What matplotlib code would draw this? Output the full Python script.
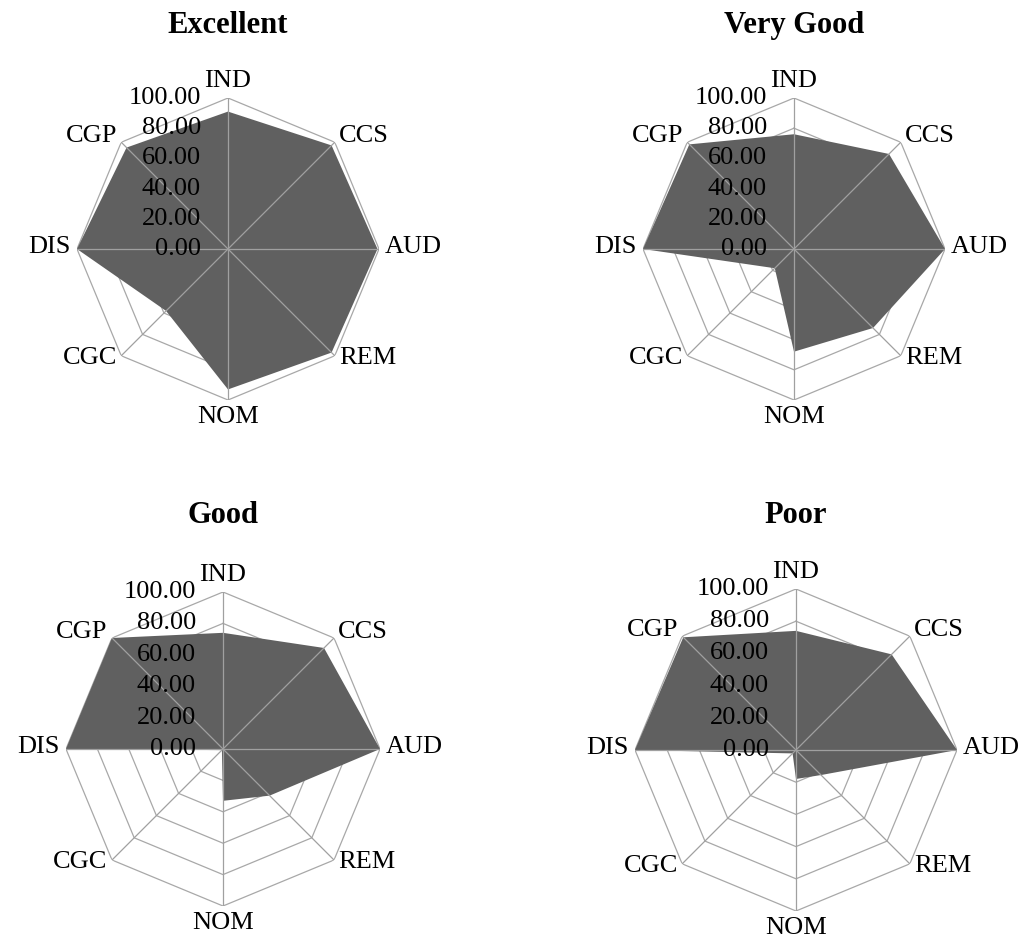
import numpy as np
import matplotlib
matplotlib.use('Agg')
import matplotlib.pyplot as plt

plt.rcParams['font.family'] = ['Liberation Serif', 'DejaVu Serif']

# Radar categories (clockwise from top) and scores per rating class
categories = ['IND', 'CCS', 'AUD', 'REM', 'NOM', 'CGC', 'DIS', 'CGP']
excellent = [91, 97, 99, 97, 93, 58, 100, 95]
very_good = [76, 89, 100, 74, 68, 18, 100, 98]
good = [74, 91, 100, 42, 33, 1, 100, 100]
poor = [74, 84, 100, 22, 18, 3, 100, 99]
titles = ['Excellent', 'Very Good', 'Good', 'Poor']
ring_values = [0, 20, 40, 60, 80, 100]
ring_labels = ['0.00', '20.00', '40.00', '60.00', '80.00', '100.00']

FILL = '#606060'
GRID = '#a8a8a8'

W, H = 1027, 949
# panel centre (x, y from top) and radius, in pixels
panels = [(228, 249, 151), (794, 249, 151), (223, 749, 157), (796, 750, 161)]
title_baseline = [33, 33, 523, 523]


def draw_radar(fig, cx, cy, r, values, title, ty):
    ax = fig.add_axes([(cx - r) / W, (H - cy - r) / H, 2 * r / W, 2 * r / H],
                      projection='polar')
    ax.set_theta_zero_location('N')
    ax.set_theta_direction(-1)
    ax.set_ylim(0, 100)
    ax.grid(False)
    ax.set_xticks([])
    ax.set_yticks([])
    ax.spines['polar'].set_visible(False)
    ax.patch.set_visible(False)

    n = len(categories)
    theta = np.arange(n) * 2 * np.pi / n
    closed = np.append(theta, theta[0])

    # octagonal rings under the fill
    for rv in ring_values[1:]:
        ax.plot(closed, [rv] * (n + 1), color=GRID, lw=0.9, zorder=1)

    vals = np.append(values, values[0])
    ax.fill(closed, vals, color=FILL, lw=0, zorder=2)

    # spokes drawn on top of the fill
    for t in theta:
        ax.plot([t, t], [0, 100], color='#a0a0a0', lw=0.9, zorder=3)

    # value labels along the top axis
    for rv, lbl in zip(ring_values, ring_labels):
        ax.annotate(lbl, xy=(0, rv), xytext=(-27, 0), textcoords='offset pixels',
                    ha='right', va='center', fontsize=19, zorder=4)

    # category labels
    for t, lbl in zip(theta, categories):
        s, c = np.sin(t), np.cos(t)
        ha = 'left' if s > 0.1 else ('right' if s < -0.1 else 'center')
        if c > 0.9:
            va = 'bottom'
        elif c < -0.9:
            va = 'top'
        else:
            va = 'center'
        ax.annotate(lbl, xy=(t, 100), xytext=(6 * s, 6 * c + (2 if abs(s) > 0.1 else 0)),
                    textcoords='offset pixels', ha=ha, va=va, fontsize=19,
                    annotation_clip=False)

    fig.text(cx / W, 1 - ty / H, title, ha='center', va='baseline',
             fontsize=22, fontweight='bold')


def main():
    fig = plt.figure(figsize=(W / 100, H / 100), dpi=100)
    series = [excellent, very_good, good, poor]
    for (cx, cy, r), vals, title, ty in zip(panels, series, titles, title_baseline):
        draw_radar(fig, cx, cy, r, vals, title, ty)
    fig.savefig('out.png', dpi=100, facecolor='white')


if __name__ == '__main__':
    main()
